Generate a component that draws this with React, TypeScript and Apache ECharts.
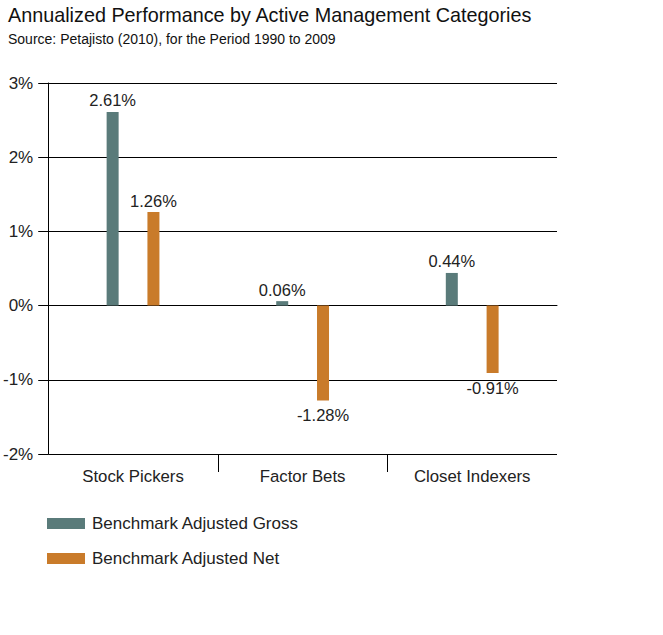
import React, { useEffect, useRef } from "react";
import * as echarts from "echarts";

const categories = ["Stock Pickers", "Factor Bets", "Closet Indexers"];
const grossValues = [2.61, 0.06, 0.44];
const netValues = [1.26, -1.28, -0.91];
const seriesNames = ["Benchmark Adjusted Gross", "Benchmark Adjusted Net"];
const boundaryTicks = ["", "", "", ""];

const FONT = "Liberation Sans";
const GROSS = "#5a7b7a";
const NET = "#c97b2a";

export default function App() {
  const ref = useRef<HTMLDivElement>(null);
  useEffect(() => {
    document.body.style.margin = "0";
    const chart = echarts.init(ref.current!, undefined, { renderer: "svg" });
    const mk = (vals: number[]) =>
      vals.map((v) => ({
        value: v,
        label: { position: v < 0 ? "bottom" : "top", distance: v < 0 ? 6 : 3 },
      }));
    const label = {
      show: true,
      fontFamily: FONT,
      fontSize: 16.5,
      color: "#222",
      formatter: (p: any) => p.value.toFixed(2) + "%",
    };
    chart.setOption({
      animation: false,
      textStyle: { fontFamily: FONT },
      title: {
        text: "Annualized Performance by Active Management Categories",
        subtext: "Source: Petajisto (2010), for the Period 1990 to 2009",
        left: 3,
        top: 0,
        itemGap: 7,
        textStyle: { fontFamily: FONT, fontSize: 19.8, fontWeight: "normal", color: "#111" },
        subtextStyle: { fontFamily: FONT, fontSize: 14, color: "#111" },
      },
      grid: { left: 48, right: 106, top: 83, bottom: 181 },
      legend: {
        orient: "vertical",
        left: 47,
        top: 515,
        itemWidth: 38,
        itemHeight: 11,
        itemGap: 18,
        icon: "rect",
        padding: 0,
        textStyle: { fontFamily: FONT, fontSize: 17, color: "#222", padding: [0, 0, 0, 2] },
        data: seriesNames,
      },
      xAxis: [
        {
          type: "category",
          data: categories,
          axisLine: { show: true, lineStyle: { color: "#000", width: 1 } },
          axisTick: { show: false },
          axisLabel: { fontFamily: FONT, fontSize: 16.8, color: "#222", margin: 14 },
        },
        {
          type: "category",
          data: boundaryTicks,
          boundaryGap: false,
          position: "bottom",
          axisLine: { show: false },
          axisLabel: { show: false },
          axisTick: {
            show: true,
            length: 18,
            interval: (i: number) => i === 1 || i === 2,
            lineStyle: { color: "#000", width: 1 },
          },
        },
      ],
      yAxis: {
        type: "value",
        min: -2,
        max: 3,
        interval: 1,
        axisLine: { show: true, lineStyle: { color: "#000", width: 1 } },
        axisTick: { show: true, length: 10, lineStyle: { color: "#000" } },
        axisLabel: {
          fontFamily: FONT,
          fontSize: 17,
          color: "#222",
          margin: 15,
          formatter: "{value}%",
        },
        splitLine: { show: true, lineStyle: { color: "#000", width: 1 } },
      },
      series: [
        {
          name: seriesNames[0],
          type: "bar",
          xAxisIndex: 0,
          data: mk(grossValues),
          barWidth: 12,
          barGap: "240%",
          itemStyle: { color: GROSS },
          label,
        },
        {
          name: seriesNames[1],
          type: "bar",
          xAxisIndex: 0,
          data: mk(netValues),
          barWidth: 12,
          barGap: "240%",
          itemStyle: { color: NET },
          label,
        },
      ],
    });
    return () => chart.dispose();
  }, []);
  return <div ref={ref} style={{ width: 663, height: 635 }} />;
}
